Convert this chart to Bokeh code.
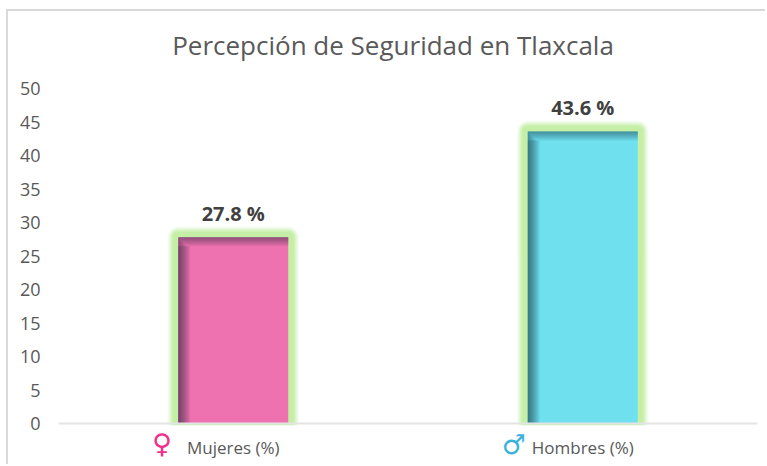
from bokeh.embed import file_html
from bokeh.resources import INLINE
from bokeh.models import Range1d, FixedTicker, Label
from bokeh.plotting import figure

title = "Percepción de Seguridad en Tlaxcala"
categories = ["Mujeres (%)", "Hombres (%)"]
values = [27.8, 43.6]
bar_labels = ["27.8 %", "43.6 %"]
bar_colors = ["#EE72B0", "#6EE0EE"]
symbols = ["♀", "♂"]
symbol_colors = ["#F0308A", "#3BB2DC"]
y_ticks = list(range(0, 55, 5))

W, H = 759, 455          # canvas, whose corner sits at page (8, 11)
L, T = 50, 77            # where the value axes start inside the canvas
FW, FH = 699, 335        # span of the two axes
positions = [0, 1]
xpx = 2 / FW
ypx = 50 / FH
half = 55 * xpx

p = figure(width=W, height=H, output_backend="svg", toolbar_location=None,
           x_range=Range1d(-0.5 - L * xpx, -0.5 + (W - L) * xpx),
           y_range=Range1d((FH + T - H) * ypx, 50 + T * ypx),
           min_border=0)
p.styles = {"position": "absolute", "left": "6px", "top": "9px",
            "border-left": "2px solid #D9D9D9", "border-top": "2px solid #D9D9D9"}
p.outline_line_color = None
p.xgrid.visible = False
p.ygrid.visible = False
p.background_fill_color = "white"
p.border_fill_color = "white"

lefts = [c - half for c in positions]
rights = [c + half for c in positions]

# glow: stacked round-joined strokes around each bar
for g, a in [(11, .10), (10, .14), (9, .2), (8, .3), (7, .45), (6, .7), (5, 1)]:
    p.quad(left=lefts, right=rights, bottom=[0, 0], top=values,
           fill_color="#C5EFA6", line_color="#C5EFA6", line_alpha=a, fill_alpha=1,
           line_width=2 * g, line_join="round")
# nothing of the glow shows below the baseline
p.quad(left=[-0.5 - L * xpx], right=[1.5 + 20 * xpx], bottom=[-20], top=[-0.25],
       fill_color="white", line_color=None)

# bars
p.quad(left=lefts, right=rights, bottom=[0, 0], top=values,
       fill_color=bar_colors, line_color=None)

# inner shadow, left and top
for i in range(1, 13):
    p.quad(left=lefts, right=[c - half + i * xpx for c in positions],
           bottom=[0, 0], top=[v - min(i, 9) * ypx for v in values],
           fill_color="#102030", fill_alpha=.06, line_color=None)
for i in range(1, 10):
    p.quad(left=lefts, right=rights,
           bottom=[v - i * ypx for v in values], top=values,
           fill_color="#102030", fill_alpha=.055, line_color=None)

p.yaxis.fixed_location = -0.5
p.yaxis.ticker = FixedTicker(ticks=y_ticks)
p.yaxis.axis_line_color = None
p.yaxis.major_tick_line_color = None
p.yaxis.minor_tick_line_color = None
p.yaxis.major_label_text_font = "Open Sans"
p.yaxis.major_label_text_font_size = "18px"
p.yaxis.major_label_text_color = "#595959"
p.yaxis.major_label_standoff = 12

p.xaxis.fixed_location = 0
p.xaxis.bounds = (-0.5, 1.5)
p.xaxis.ticker = FixedTicker(ticks=positions)
p.xaxis.major_label_overrides = {c: t for c, t in zip(positions, categories)}
p.xaxis.axis_line_color = "#E4E4E4"
p.xaxis.axis_line_width = 2
p.xaxis.major_tick_line_color = None
p.xaxis.minor_tick_line_color = None
p.xaxis.major_label_text_font = "Open Sans"
p.xaxis.major_label_text_font_size = "17px"
p.xaxis.major_label_text_color = "#595959"
p.xaxis.major_label_standoff = 6

p.add_layout(Label(x=0.5, y=50, y_offset=44, x_offset=-15, text=title,
                   text_font="Open Sans", text_font_size="26px", text_color="#595959",
                   text_align="center", text_baseline="middle"))

for c, v, t in zip(positions, values, bar_labels):
    p.add_layout(Label(x=c, y=v, y_offset=24, text=t, text_font="Open Sans",
                       text_font_style="bold", text_font_size="20px", text_color="#404040",
                       text_align="center", text_baseline="middle"))

for c, s, col, dx, dy in zip(positions, symbols, symbol_colors, [-71, -69], [-20, -21]):
    p.add_layout(Label(x=c, y=0, x_offset=dx, y_offset=dy, text=s, text_font="DejaVu Sans",
                       text_font_style="bold", text_font_size="27px", text_color=col,
                       text_align="center", text_baseline="middle"))

open("out.html", "w").write(file_html(p, INLINE))
